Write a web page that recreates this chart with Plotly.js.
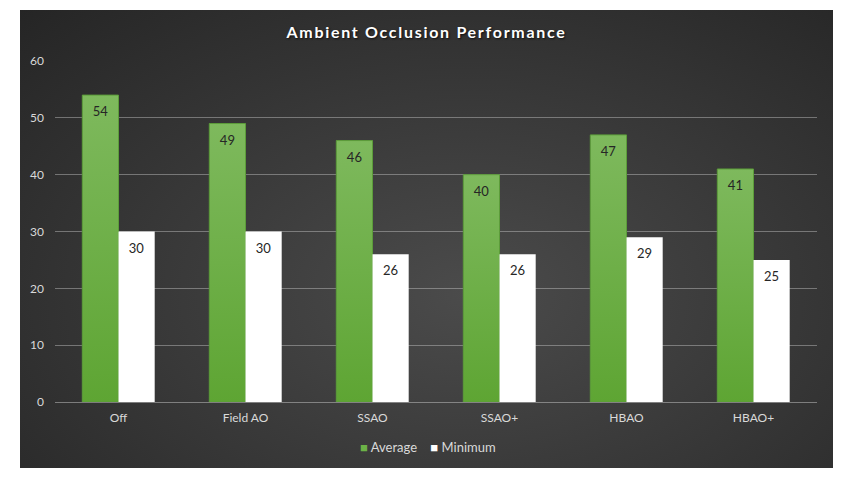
<!DOCTYPE html>
<html>
<head>
<meta charset="utf-8">
<script src="https://cdn.plot.ly/plotly-3.0.1.min.js"></script>
<style>
    html, body { margin: 0; padding: 0; background: #ffffff; }
    #frame {
        position: absolute;
        left: 20px;
        top: 10px;
        width: 813px;
        height: 458px;
        background: radial-gradient(ellipse at 55% 62%, #4b4b4b 0%, #3a3a3a 45%, #252525 100%);
    }
    #chart { width: 813px; height: 458px; }
    .gtitle { letter-spacing: 1.7px; }
    /* green bars get a vertical gradient like the original */
    .barlayer .trace:nth-child(1) .point path { fill: url(#greenFade) !important; }
    /* push data labels a little further into the bar */
    .barlayer .bartext { translate: 0 5px; }
</style>
</head>
<body>
<svg width="0" height="0" style="position:absolute">
    <defs>
        <linearGradient id="greenFade" x1="0" y1="0" x2="0" y2="1">
            <stop offset="0%" stop-color="#7eb95d"/>
            <stop offset="100%" stop-color="#5ea533"/>
        </linearGradient>
    </defs>
</svg>
<div id="frame"><div id="chart"></div></div>
<script>
// Ambient occlusion benchmark, frames per second
const categories = ['Off', 'Field AO', 'SSAO', 'SSAO+', 'HBAO', 'HBAO+'];
const averageFps = [54, 49, 46, 40, 47, 41];
const minimumFps = [30, 30, 26, 26, 29, 25];
const yTicks = [0, 10, 20, 30, 40, 50, 60];
const seriesNames = ['Average', 'Minimum'];
const seriesColors = ['#6cb247', '#ffffff'];

const baseFont = 'Lato, "Noto Sans", sans-serif';
const labelFont = { family: baseFont, size: 13, color: '#262626' };

const data = [
    {
        type: 'bar',
        name: seriesNames[0],
        x: categories,
        y: averageFps,
        text: averageFps.map(String),
        textposition: 'inside',
        insidetextanchor: 'end',
        textangle: 0,
        textfont: labelFont,
        marker: {
            color: seriesColors[0],
            line: { color: '#5c9c3a', width: 1 }
        },
        hoverinfo: 'x+y'
    },
    {
        type: 'bar',
        name: seriesNames[1],
        x: categories,
        y: minimumFps,
        text: minimumFps.map(String),
        textposition: 'inside',
        insidetextanchor: 'end',
        textangle: 0,
        textfont: labelFont,
        marker: { color: seriesColors[1] },
        hoverinfo: 'x+y'
    }
];

// legend drawn as a single centred line, squares tight against the text
const legendText = seriesNames.map(function(name, i) {
    return '<span style="color:' + seriesColors[i] + '">■</span> ' + name;
}).join('    ');

const layout = {
    width: 813,
    height: 458,
    margin: { t: 51, r: 16, b: 66, l: 35 },
    paper_bgcolor: 'rgba(0,0,0,0)',
    plot_bgcolor: 'rgba(0,0,0,0)',
    font: { family: baseFont, size: 12, color: '#d9d9d9' },
    title: {
        text: '<b>Ambient Occlusion Performance</b>',
        x: 0.5,
        xanchor: 'center',
        yref: 'container',
        y: 0.952,
        yanchor: 'middle',
        font: {
            family: baseFont,
            size: 16,
            color: '#ffffff',
            shadow: '1px 1px 2px rgba(0,0,0,0.7)'
        }
    },
    barmode: 'group',
    bargap: 0.43,
    bargroupgap: 0,
    xaxis: {
        automargin: false,
        showgrid: false,
        showline: true,
        linecolor: 'rgba(200,200,200,0.5)',
        linewidth: 1,
        ticks: '',
        ticklabelstandoff: 5,
        tickfont: { size: 12, color: '#d9d9d9' }
    },
    yaxis: {
        automargin: false,
        range: [0, 60],
        tickvals: yTicks,
        showgrid: true,
        gridcolor: 'rgba(200,200,200,0.45)',
        gridwidth: 1,
        zeroline: false,
        showline: false,
        ticks: '',
        ticklabelstandoff: 10,
        tickfont: { size: 12, color: '#d9d9d9' }
    },
    showlegend: false,
    annotations: [{
        text: legendText,
        xref: 'paper',
        yref: 'paper',
        x: 0.49,
        y: -0.132,
        xanchor: 'center',
        yanchor: 'middle',
        showarrow: false,
        font: { family: baseFont, size: 13, color: '#d9d9d9' }
    }]
};

Plotly.newPlot('chart', data, layout, { displayModeBar: false, staticPlot: true });
</script>
</body>
</html>
